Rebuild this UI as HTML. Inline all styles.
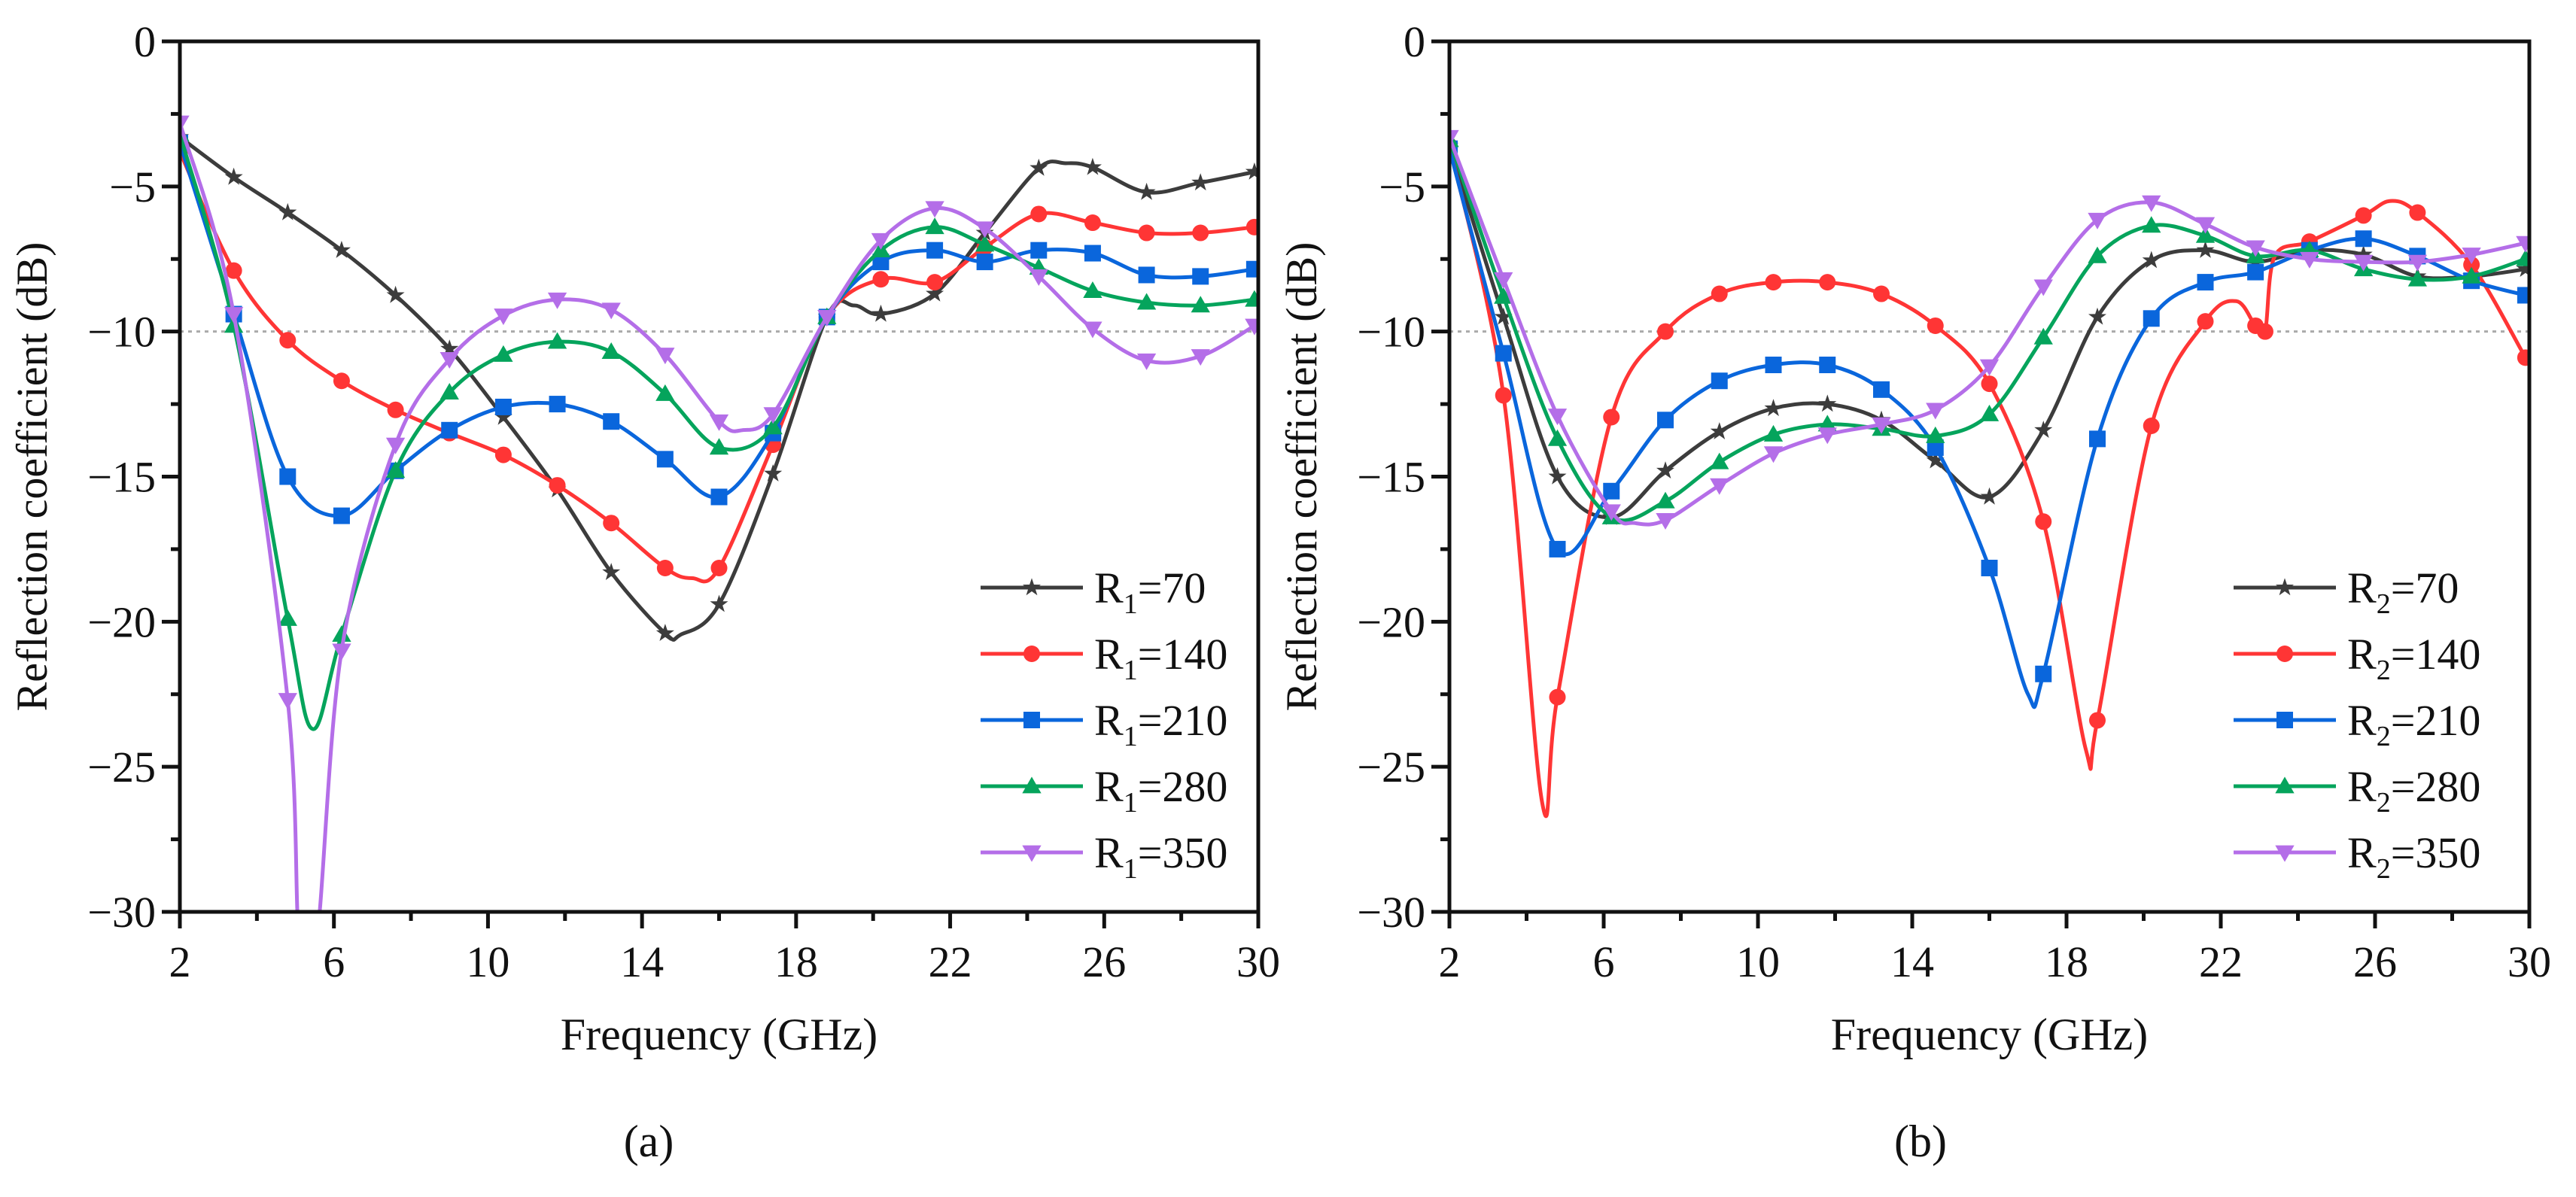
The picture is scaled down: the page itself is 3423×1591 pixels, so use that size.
<!DOCTYPE html>
<html><head><meta charset="utf-8"><style>
html,body{margin:0;padding:0;background:#fff;}
svg{display:block;}
text{font-family:"Liberation Serif",serif;fill:#111;}
</style></head><body>
<svg id="fig" width="3423" height="1591" viewBox="0 0 3423 1591" xmlns="http://www.w3.org/2000/svg"></svg>
<script>
// ---- shared axis data ----
const xTicks = [2, 6, 10, 14, 18, 22, 26, 30];
const yTicks = [0, -5, -10, -15, -20, -25, -30];
const legendValues = ["70", "140", "210", "280", "350"];
const seriesColors = ["#3c3c3c", "#ff3535", "#0a66dc", "#05a45c", "#b46ee8"];
const seriesMarkers = ["star", "circle", "square", "triangle", "invtriangle"];

// ---- panel (a) data: frequency (GHz) / reflection (dB) ----
const aFreq70  = [2,3.4,4.8,6.2,7.6,9.0,10.4,11.8,13.2,14.6,15.0,16.0,17.4,18.8,19.5,20.2,21.6,22.9,24.3,25.0,25.7,27.1,28.5,29.9];
const aVal70   = [-3.3,-4.68,-5.9,-7.2,-8.75,-10.6,-12.95,-15.45,-18.3,-20.4,-20.45,-19.4,-14.9,-9.5,-9.1,-9.4,-8.7,-6.6,-4.37,-4.2,-4.34,-5.2,-4.87,-4.5];
const aFreq140 = [2,3.4,4.8,6.2,7.6,9.0,10.4,11.8,13.2,14.6,15.3,16.0,17.4,18.8,20.2,21.6,22.9,24.3,25.7,27.1,28.5,29.9];
const aVal140  = [-3.8,-7.9,-10.3,-11.7,-12.7,-13.5,-14.25,-15.3,-16.6,-18.15,-18.5,-18.15,-13.9,-9.5,-8.2,-8.3,-7.1,-5.95,-6.25,-6.6,-6.6,-6.4];
const aFreq210 = [2,3.4,4.8,6.2,7.6,9.0,10.4,11.8,13.2,14.6,16.0,17.4,18.8,20.2,21.6,22.9,24.3,25.7,27.1,28.5,29.9];
const aVal210  = [-3.5,-9.4,-15.0,-16.35,-14.8,-13.4,-12.6,-12.5,-13.1,-14.4,-15.7,-13.5,-9.5,-7.6,-7.2,-7.6,-7.2,-7.3,-8.05,-8.1,-7.85];
const aFreq280 = [2,3.4,4.8,5.45,6.2,7.6,9.0,10.4,11.8,13.2,14.6,16.0,17.4,18.8,20.2,21.6,22.9,24.3,25.7,27.1,28.5,29.9];
const aVal280  = [-3.2,-9.8,-19.9,-23.7,-20.45,-14.8,-12.1,-10.8,-10.35,-10.7,-12.15,-14.0,-13.3,-9.5,-7.2,-6.4,-7.0,-7.8,-8.6,-9.0,-9.1,-8.9];
const aFreq350 = [2,3.4,4.8,5.1,5.55,6.2,7.6,9.0,10.4,11.8,13.2,14.6,16.0,16.6,17.4,18.8,20.2,21.6,22.9,24.3,25.7,27.1,28.5,29.9];
const aVal350  = [-2.8,-9.4,-22.7,-31,-31,-21.0,-13.9,-10.95,-9.45,-8.9,-9.25,-10.8,-13.1,-13.4,-12.85,-9.5,-6.85,-5.75,-6.45,-8.1,-9.9,-11.0,-10.85,-9.8];

// ---- panel (b) data ----
const bFreq70  = [2,3.4,4.8,6.2,7.6,9.0,10.4,11.8,13.2,14.6,16.0,17.4,18.8,20.2,21.6,22.9,24.3,25.7,27.1,28.5,29.9];
const bVal70   = [-3.6,-9.5,-15.0,-16.4,-14.8,-13.45,-12.65,-12.5,-13.05,-14.45,-15.7,-13.4,-9.5,-7.55,-7.2,-7.6,-7.2,-7.35,-8.1,-8.1,-7.85];
const bFreq140 = [2,3.4,4.4,4.8,6.2,7.6,9.0,10.4,11.8,13.2,14.6,16.0,17.4,18.5,18.8,20.2,21.6,22.4,22.9,23.15,23.4,24.3,25.7,26.4,27.1,28.5,29.9];
const bVal140  = [-3.6,-12.2,-26.2,-22.6,-12.95,-10.0,-8.7,-8.3,-8.3,-8.7,-9.8,-11.8,-16.55,-24.4,-23.4,-13.25,-9.65,-8.95,-9.8,-10.0,-7.4,-6.9,-6.0,-5.5,-5.9,-7.7,-10.9];
const bFreq210 = [2,3.4,4.8,6.2,7.6,9.0,10.4,11.8,13.2,14.6,16.0,17.0,17.4,18.8,20.2,21.6,22.9,24.3,25.7,27.1,28.5,29.9];
const bVal210  = [-3.7,-10.75,-17.5,-15.5,-13.05,-11.7,-11.15,-11.15,-12.0,-14.0,-18.15,-22.5,-21.8,-13.7,-9.55,-8.3,-7.95,-7.2,-6.8,-7.4,-8.25,-8.75];
const bFreq280 = [2,3.4,4.8,6.2,7.6,9.0,10.4,11.8,13.2,14.6,16.0,17.4,18.8,20.2,21.6,22.9,24.3,25.7,27.1,28.5,29.9];
const bVal280  = [-3.4,-8.8,-13.7,-16.4,-15.85,-14.5,-13.55,-13.2,-13.35,-13.6,-12.85,-10.2,-7.4,-6.35,-6.7,-7.4,-7.2,-7.85,-8.2,-8.1,-7.5];
const bFreq350 = [2,3.4,4.8,6.2,6.8,7.6,9.0,10.4,11.8,13.2,14.6,16.0,17.4,18.8,20.2,21.6,22.9,24.3,25.7,27.1,28.5,29.9];
const bVal350  = [-3.3,-8.2,-12.9,-16.2,-16.6,-16.5,-15.3,-14.2,-13.55,-13.2,-12.7,-11.2,-8.45,-6.15,-5.55,-6.3,-7.1,-7.5,-7.6,-7.6,-7.35,-6.95];

const NS = "http://www.w3.org/2000/svg";
const svg = document.getElementById("fig");
function mk(tag, attrs, parent) {
  const e = document.createElementNS(NS, tag);
  for (const k in attrs) e.setAttribute(k, attrs[k]);
  (parent || svg).appendChild(e);
  return e;
}

function isMarkerFreq(f) {
  const k = Math.round((f - 2) / 1.4);
  return Math.abs(f - (2 + k * 1.4)) < 0.15;
}

function smoothPath(pts) {
  let d = "M" + pts[0][0].toFixed(1) + "," + pts[0][1].toFixed(1);
  for (let i = 0; i < pts.length - 1; i++) {
    const p0 = pts[Math.max(0, i - 1)], p1 = pts[i], p2 = pts[i + 1], p3 = pts[Math.min(pts.length - 1, i + 2)];
    const t = 6;
    const c1x = p1[0] + (p2[0] - p0[0]) / t, c1y = p1[1] + (p2[1] - p0[1]) / t;
    const c2x = p2[0] - (p3[0] - p1[0]) / t, c2y = p2[1] - (p3[1] - p1[1]) / t;
    d += " C" + c1x.toFixed(1) + "," + c1y.toFixed(1) + " " + c2x.toFixed(1) + "," + c2y.toFixed(1) + " " + p2[0].toFixed(1) + "," + p2[1].toFixed(1);
  }
  return d;
}

function drawMarker(g, type, cx, cy, color, r) {
  let el;
  if (type === "circle") el = mk("circle", {cx: cx, cy: cy, r: r, fill: color}, g);
  else if (type === "square") el = mk("rect", {x: cx - r, y: cy - r, width: 2 * r, height: 2 * r, fill: color}, g);
  else if (type === "triangle") el = mk("polygon", {points: `${cx},${cy - r * 1.15} ${cx - r * 1.15},${cy + r * 0.85} ${cx + r * 1.15},${cy + r * 0.85}`, fill: color}, g);
  else if (type === "invtriangle") el = mk("polygon", {points: `${cx},${cy + r * 1.15} ${cx - r * 1.15},${cy - r * 0.85} ${cx + r * 1.15},${cy - r * 0.85}`, fill: color}, g);
  else {
    let p = [];
    for (let i = 0; i < 10; i++) {
      const a = -Math.PI / 2 + i * Math.PI / 5, rr = i % 2 ? r * 0.45 : r * 1.15;
      p.push((cx + rr * Math.cos(a)).toFixed(1) + "," + (cy + rr * Math.sin(a)).toFixed(1));
    }
    el = mk("polygon", {points: p.join(" "), fill: color}, g);
  }
  
  
}

function drawPanel(id, L, R, T, B, sub, freqs, vals, legX, titleX, capX, cap) {
  const xS = f => L + (f - 2) / 28 * (R - L);
  const yS = v => T + (-v) / 30 * (B - T);
  const g = mk("g", {});
  
  

  const clip = mk("clipPath", {id: "clip" + id}, g);
  mk("rect", {x: L, y: T, width: R - L, height: B - T}, clip);

  const ref = mk("line", {x1: L, x2: R, y1: yS(-10), y2: yS(-10), stroke: "#aaa", "stroke-width": 3, "stroke-dasharray": "5,6"}, g);
  
  

  for (let s = 0; s < freqs.length; s++) {
    const sg = mk("g", {"clip-path": `url(#clip${id})`}, g);
    
    
    const pts = freqs[s].map((f, i) => [xS(f), yS(vals[s][i])]);
    const path = mk("path", {d: smoothPath(pts), fill: "none", stroke: seriesColors[s], "stroke-width": 5, "stroke-linejoin": "round"}, sg);
    
    
    freqs[s].forEach((f, i) => {
      if (isMarkerFreq(f) && vals[s][i] > -30) drawMarker(sg, seriesMarkers[s], xS(f), yS(vals[s][i]), seriesColors[s], 11);
    });
  }

  const fr = mk("path", {d: `M${L},${T} H${R} V${B} H${L} Z`, fill: "none", stroke: "#111", "stroke-width": 5}, g);
  
  

  for (let f = 2; f <= 30; f += 2) {
    const major = xTicks.includes(f);
    const t = mk("line", {x1: xS(f), x2: xS(f), y1: B, y2: B + (major ? 22 : 12), stroke: "#111", "stroke-width": 5}, g);
    
    
  }
  xTicks.forEach(f => {
    const t = mk("text", {x: xS(f), y: B + 86, "font-size": 58, "text-anchor": "middle"}, g);
    t.textContent = f;
    
    
  });
  for (let v = 0; v >= -30; v -= 2.5) {
    const major = yTicks.includes(v);
    const t = mk("line", {x1: L - (major ? 24 : 12), x2: L, y1: yS(v), y2: yS(v), stroke: "#111", "stroke-width": 5}, g);
    
    
  }
  yTicks.forEach(v => {
    const t = mk("text", {x: L - 32, y: yS(v) + 20, "font-size": 58, "text-anchor": "end"}, g);
    t.textContent = v === 0 ? "0" : "\u2212" + (-v);
    
    
  });

  const xt = mk("text", {x: (L + R) / 2, y: 1395, "font-size": 60, "text-anchor": "middle"}, g);
  xt.textContent = "Frequency (GHz)";
  
  
  const yt = mk("text", {x: 0, y: 0, "font-size": 58, "text-anchor": "middle", transform: `translate(${titleX},${(T + B) / 2}) rotate(-90)`}, g);
  yt.textContent = "Reflection coefficient (dB)";
  
  

  const lg = mk("g", {}, g);
  
  
  legendValues.forEach((lv, s) => {
    const y = 781 + s * 88;
    const eg = mk("g", {}, lg);
    
    
    mk("line", {x1: legX, x2: legX + 136, y1: y, y2: y, stroke: seriesColors[s], "stroke-width": 5}, eg);
    drawMarker(eg, seriesMarkers[s], legX + 68, y, seriesColors[s], 11);
    const tx = mk("text", {x: legX + 151, y: y + 20, "font-size": 58}, eg);
    tx.innerHTML = `R<tspan font-size="38" dy="14">${sub}</tspan><tspan dy="-14">=${lv}</tspan>`;
  });

  const c = mk("text", {x: capX, y: 1537, "font-size": 60, "text-anchor": "middle"}, g);
  c.textContent = cap;
  
  
}

drawPanel("a", 239, 1672, 55, 1212, "1",
  [aFreq70, aFreq140, aFreq210, aFreq280, aFreq350],
  [aVal70, aVal140, aVal210, aVal280, aVal350], 1303, 62, 862, "(a)");
drawPanel("b", 1926, 3361, 55, 1212, "2",
  [bFreq70, bFreq140, bFreq210, bFreq280, bFreq350],
  [bVal70, bVal140, bVal210, bVal280, bVal350], 2968, 1749, 2552, "(b)");
</script>
</body></html>
